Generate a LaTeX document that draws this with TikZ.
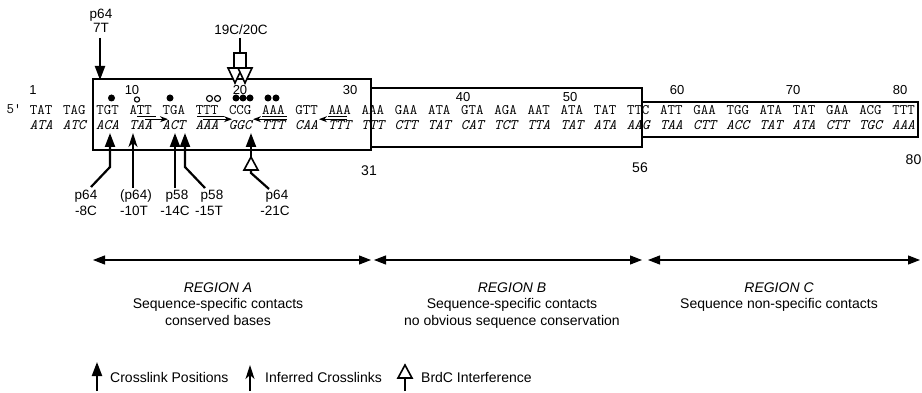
\documentclass[tikz,border=0pt]{standalone}
\usepackage{fontspec}
\setmainfont{Liberation Sans}
\usetikzlibrary{arrows.meta}
\begin{document}
\begin{tikzpicture}[x=1pt,y=-1pt,
  seq/.style={font=\ttfamily\fontsize{14.5}{14.5}\selectfont, inner sep=0pt, anchor=base},
  seqb/.style={font=\ttfamily\itshape\fontsize{14.5}{14.5}\selectfont, inner sep=0pt, anchor=base},
  num/.style={font=\fontsize{13}{13}\selectfont, inner sep=0pt, anchor=base},
  lbl/.style={font=\fontsize{13.5}{13.5}\selectfont, inner sep=0pt, anchor=base},
  txt/.style={font=\fontsize{14}{14}\selectfont, inner sep=0pt, anchor=base},
  xl/.style={line width=2.2pt, -{Triangle[length=14pt,width=10pt]}},
  inf/.style={line width=1.6pt, -{Stealth[length=14pt,width=9pt,inset=4pt]}},
  brd/.style={line width=1.6pt, fill=white, line join=miter},
  reg/.style={line width=1.1pt, {Triangle[length=12pt,width=9pt]}-{Triangle[length=12pt,width=9pt]}},
  ul/.style={line width=1pt},
  dna/.style={-{Stealth[length=8pt,width=6pt]}, line width=1pt},
]
\fill[white] (0,0) rectangle (922,393);
\useasboundingbox (0,0) rectangle (922,393);

% boxes
\draw[line width=1.7pt] (371,88) -- (642,88) -- (642,147) -- (371,147);
\draw[line width=1.7pt] (642,102) -- (918,102) -- (918,137) -- (642,137);
\draw[line width=2.6pt] (93,79) rectangle (371,150);

% sequence
\node[seq] (five) at (14,114) {5'};
\foreach \c [count=\k from 0] in {TAT,TAG,TGT,ATT,TGA,TTT,CCG,AAA,GTT,AAA,AAA,GAA,ATA,GTA,AGA,AAT,ATA,TAT,TTC,ATT,GAA,TGG,ATA,TAT,GAA,ACG,TTT}
  \node[seq] (t\k) at ({41.2+33.17*\k},114.5) {\c};
\foreach \c [count=\k from 0] in {ATA,ATC,ACA,TAA,ACT,AAA,GGC,TTT,CAA,TTT,TTT,CTT,TAT,CAT,TCT,TTA,TAT,ATA,AAG,TAA,CTT,ACC,TAT,ATA,CTT,TGC,AAA}
  \node[seqb] (b\k) at ({41.2+33.17*\k},129.5) {\c};

% position numbers
\node[num] (n1) at (33,95) {1};
\node[num] (n10) at (132,95) {10};
\node[num] (n20) at (240,95) {20};
\node[num] (n30) at (350,95) {30};
\node[num] (n40) at (463,102) {40};
\node[num] (n50) at (570,102) {50};
\node[num] (n60) at (677,95) {60};
\node[num] (n70) at (793,95) {70};
\node[num] (n80) at (900,95) {80};
\node[txt] (m31) at (369,176) {31};
\node[txt] (m56) at (640,173) {56};
\node[txt,anchor=base east] (m80) at (921.5,165) {80};

% contact dots
\fill (111.5,98) circle[radius=3.5pt];
\draw[line width=1.1pt] (137,99.5) circle[radius=2.6pt];
\fill (170,98) circle[radius=3.5pt];
\draw[line width=1.1pt] (209.5,98.5) circle[radius=3pt] (217.5,98.5) circle[radius=3pt];
\fill (236,98) circle[radius=3.5pt] (243,98) circle[radius=3.5pt] (250,98) circle[radius=3.5pt];
\fill (268,98) circle[radius=3.5pt] (276,98) circle[radius=3.5pt];

% inverted repeat arrows
\draw[ul] (137,116.8) -- (156,116.8);
\draw[dna] (145,119.2) -- (168,119.2);
\draw[ul] (197,116.8) -- (224,116.8);
\draw[dna] (203,119.2) -- (232,119.2);
\draw[ul] (262,116.8) -- (287,116.8);
\draw[dna] (287,119.2) -- (253,119.2);
\draw[ul] (328,116.8) -- (347,116.8);
\draw[dna] (347,119.2) -- (319,119.2);

% top crosslink p64 7T
\node[lbl] (p64a) at (101,19) {p64};
\node[lbl] (t7) at (101,33) {7T};
\coordinate (a7) at (100,80);
\draw[xl] (100,38) -- (a7);

% 19C/20C BrdC interference
\node[lbl] (c1920) at (241,35) {19C/20C};
\draw[line width=1.8pt] (240,38) -- (240,53);
\draw[line width=1.8pt] (234,53) rectangle (246,68);
\draw[brd] (228,68) -- (242,68) -- (235,83) -- cycle;
\draw[brd] (238,68) -- (252,68) -- (245,83) -- cycle;

% bottom crosslinks
\node[lbl] (l8a) at (86,200) {p64};
\node[lbl] (l8b) at (86,216) {-8C};
\node[lbl] (l10a) at (136,200) {(p64)};
\node[lbl] (l10b) at (134,216) {-10T};
\node[lbl] (l14a) at (177,200) {p58};
\node[lbl] (l14b) at (175,216) {-14C};
\node[lbl] (l15a) at (212,200) {p58};
\node[lbl] (l15b) at (209,216) {-15T};
\node[lbl] (l21a) at (277,200) {p64};
\node[lbl] (l21b) at (275,216) {-21C};

\coordinate (x8) at (110,133);
\coordinate (x10) at (133,133);
\coordinate (x14) at (175,133);
\coordinate (x15) at (185,133);
\coordinate (x21) at (251,133);
\draw[xl] (91,187) -- (110,167) -- (x8);
\draw[inf] (133,188) -- (x10);
\draw[xl] (175,188) -- (x14);
\draw[xl] (205,188) -- (185,167) -- (x15);
\draw[line width=2.2pt] (269,189) -- (251,173) -- (251,169);
\draw[brd] (244,170) -- (258,170) -- (251,157) -- cycle;
\draw[xl] (251,158) -- (x21);

% regions
\draw[reg] (93,260) -- (371,260);
\draw[reg] (374,260) -- (642,260);
\draw[reg] (648,260) -- (920,260);

\node[txt] (ra) at (218,292.5) {\itshape REGION A};
\node[txt] (ra2) at (218,308) {Sequence-specific contacts};
\node[txt] (ra3) at (218,325) {conserved bases};
\node[txt] (rb) at (512,292.5) {\itshape REGION B};
\node[txt] (rb2) at (512,308) {Sequence-specific contacts};
\node[txt] (rb3) at (512,325) {no obvious sequence conservation};
\node[txt] (rc) at (779,292.5) {\itshape REGION C};
\node[txt] (rc2) at (779,308) {Sequence non-specific contacts};

% legend
\draw[xl] (97,391) -- (97,362);
\node[txt,anchor=base west] (lg1) at (110,382) {Crosslink Positions};
\draw[inf] (250,391) -- (250,365);
\node[txt,anchor=base west] (lg2) at (265,382) {Inferred Crosslinks};
\draw[line width=1.8pt] (405,391) -- (405,378);
\draw[brd] (398,378) -- (412,378) -- (405,365) -- cycle;
\node[txt,anchor=base west] (lg3) at (421,382) {BrdC Interference};
\end{tikzpicture}
\end{document}
